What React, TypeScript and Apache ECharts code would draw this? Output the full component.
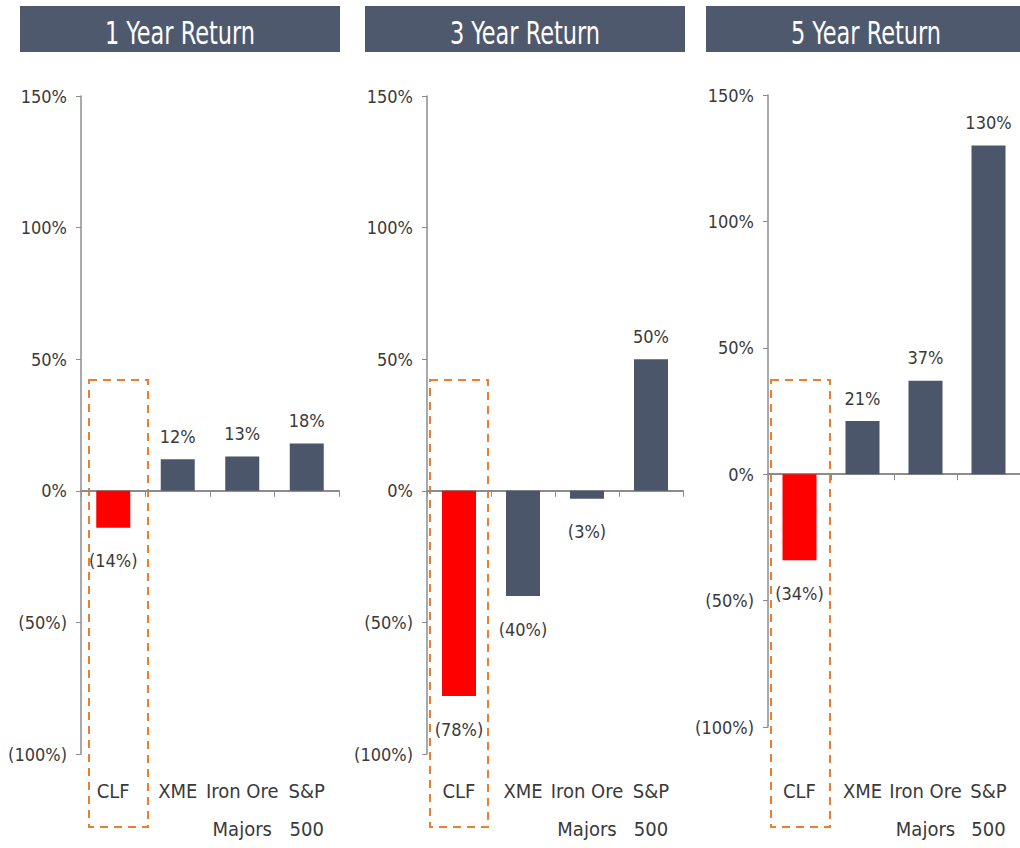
import React, { useEffect, useRef } from "react";
import * as echarts from "echarts";

const categories = ["CLF", "XME", "Iron Ore\nMajors", "S&P\n500"];
const oneYearReturn = [-14, 12, 13, 18];
const threeYearReturn = [-78, -40, -3, 50];
const fiveYearReturn = [-34, 21, 37, 130];
const panelTitles = ["1 Year Return", "3 Year Return", "5 Year Return"];
const yMin = -100;
const yMax = 150;
const yStep = 50;
const highlightIndex = 0;

const FONT = "'Liberation Sans Narrow', 'DejaVu Sans Condensed', 'Open Sans', sans-serif";
const SLATE = "#4b566b";
const RED = "#ff0000";
const AXIS = "#8c8c8c";
const TEXT = "#3a3a3a";

const pct = (v: number) => (v < 0 ? `(${-v}%)` : `${v}%`);

const panels = [
  { title: panelTitles[0], values: oneYearReturn, grid: { left: 81, top: 96, width: 258, height: 659 }, labelMargin: 18, header: { x: 20, w: 320 }, box: { x: 89, w: 59 } },
  { title: panelTitles[1], values: threeYearReturn, grid: { left: 427, top: 96, width: 256, height: 659 }, labelMargin: 18, header: { x: 365, w: 320 }, box: { x: 430, w: 58 } },
  { title: panelTitles[2], values: fiveYearReturn, grid: { left: 768, top: 95, width: 258, height: 633 }, labelMargin: 45, header: { x: 706, w: 330 }, box: { x: 771, w: 59 } },
];

export default function App() {
  const ref = useRef<HTMLDivElement>(null);
  useEffect(() => {
    if (!ref.current) return;
    const chart = echarts.init(ref.current, null, { renderer: "svg" });
    const grids: any[] = [];
    const xAxes: any[] = [];
    const yAxes: any[] = [];
    const series: any[] = [];
    const graphics: any[] = [];

    panels.forEach((p, i) => {
      grids.push({ ...p.grid, containLabel: false });
      // zero line axis with ticks
      xAxes.push({
        type: "category",
        gridIndex: i,
        data: categories,
        position: "top",
        boundaryGap: true,
        axisLine: { show: true, onZero: true, lineStyle: { color: AXIS, width: 2 } },
        axisTick: { show: true, inside: true, length: 6, lineStyle: { color: AXIS, width: 1 } },
        axisLabel: { show: false },
        splitLine: { show: false },
      });
      // bottom labels axis
      xAxes.push({
        type: "category",
        gridIndex: i,
        data: categories,
        position: "bottom",
        axisLine: { show: false, onZero: false },
        axisTick: { show: false },
        axisLabel: {
          show: true,
          interval: 0,
          margin: p.labelMargin,
          fontFamily: FONT,
          fontSize: 20,
          lineHeight: 38,
          color: TEXT,
        },
        splitLine: { show: false },
      });
      yAxes.push({
        type: "value",
        gridIndex: i,
        min: yMin,
        max: yMax,
        interval: yStep,
        axisLine: { show: true, lineStyle: { color: AXIS, width: 1.5 } },
        axisTick: { show: true, length: 5, lineStyle: { color: AXIS } },
        splitLine: { show: false },
        axisLabel: {
          margin: 14,
          fontFamily: FONT,
          fontSize: 18,
          color: TEXT,
          formatter: (v: number) => pct(v),
        },
      });
      series.push({
        type: "bar",
        xAxisIndex: i * 2,
        yAxisIndex: i,
        barWidth: 34,
        data: p.values.map((v, k) => ({
          value: v,
          itemStyle: { color: k === highlightIndex ? RED : SLATE },
          label: v < 0 ? { position: "bottom", distance: 24 } : { position: "top", distance: 14 },
        })),
        label: {
          show: true,
          fontFamily: FONT,
          fontSize: 18,
          color: TEXT,
          formatter: (d: any) => pct(d.value),
        },
      });
      graphics.push({
        type: "rect",
        shape: { x: p.header.x, y: 6, width: p.header.w, height: 46 },
        style: { fill: "#4f596e" },
        silent: true,
      });
      graphics.push({
        type: "text",
        x: p.header.x + 160,
        y: 33,
        scaleX: 0.78,
        style: {
          text: p.title,
          fill: "#ffffff",
          font: `32px ${FONT}`,
          textAlign: "center",
          textVerticalAlign: "middle",
          align: "center",
          verticalAlign: "middle",
        },
        silent: true,
      });
      graphics.push({
        type: "rect",
        shape: { x: p.box.x, y: 380, width: p.box.w, height: 447 },
        style: { fill: "none", stroke: "#ed7d31", lineWidth: 2, lineDash: [8, 6] },
        silent: true,
      });
    });

    chart.setOption({
      animation: false,
      backgroundColor: "#ffffff",
      grid: grids,
      xAxis: xAxes,
      yAxis: yAxes,
      series,
      graphic: graphics,
    });
    return () => chart.dispose();
  }, []);
  return (
    <div
      ref={ref}
      style={{ position: "absolute", left: 0, top: 0, width: 1020, height: 848, background: "#fff" }}
    />
  );
}
